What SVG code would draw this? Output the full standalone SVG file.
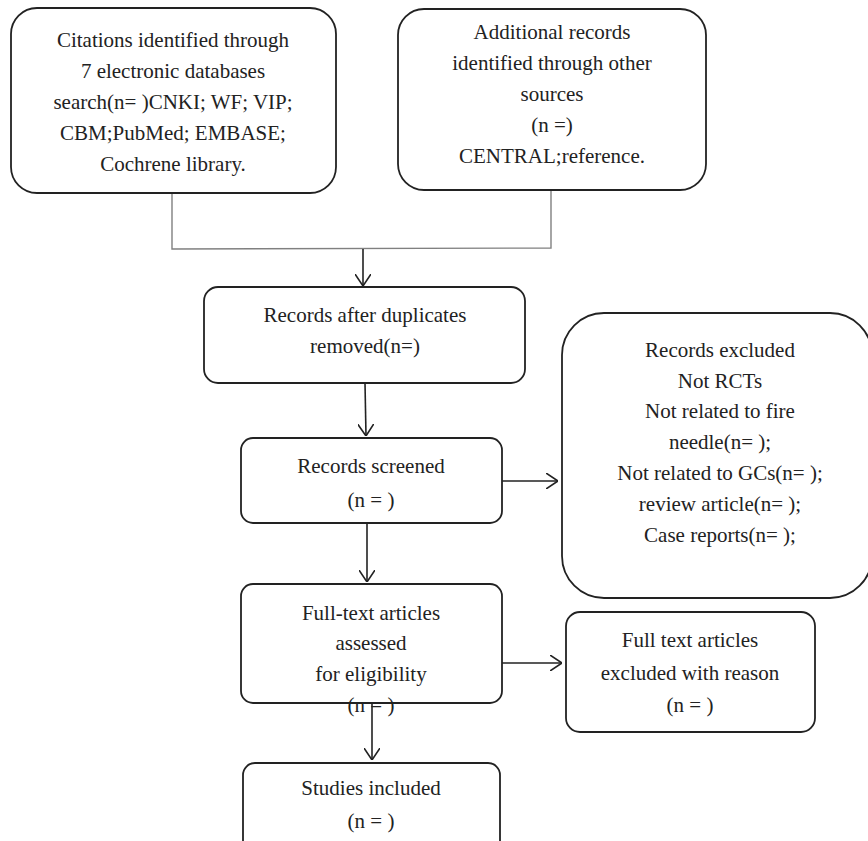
<svg xmlns="http://www.w3.org/2000/svg" width="868" height="841" viewBox="0 0 868 841">
<style>
.box{fill:#fff;stroke:#222;stroke-width:1.8}
.t text{font-size:21px;fill:#222;text-anchor:middle}
.gray{fill:none;stroke:#808080;stroke-width:1.4}
.arr{fill:none;stroke:#222;stroke-width:1.6;marker-end:url(#ah)}
</style>
<defs>
<marker id="ah" viewBox="0 0 12 16" refX="12" refY="8" markerWidth="12" markerHeight="16" markerUnits="userSpaceOnUse" orient="auto">
<path d="M0,0 L12,8 L0,16" fill="none" stroke="#222" stroke-width="1.6"/>
</marker>
</defs>
<g id="connectors">
<polyline class="gray" points="172,193 172,249 551,248 551,190"/>
<line class="arr" x1="363" y1="249" x2="363" y2="286"/>
<line class="arr" x1="365" y1="383" x2="366" y2="436"/>
<line class="arr" x1="502" y1="481" x2="558" y2="481"/>
<line class="arr" x1="367" y1="523" x2="367" y2="582"/>
<line class="arr" x1="502" y1="663" x2="562" y2="663"/>
<line class="arr" x1="372" y1="703" x2="372" y2="760"/>
</g>
<g class="t" font-family="'Liberation Serif', 'DejaVu Serif', serif">
<g id="n1">
<rect class="box" x="11" y="8" width="325" height="185" rx="26"/>
<text x="173" y="47">Citations identified through</text>
<text x="173" y="78">7 electronic databases</text>
<text x="173" y="109">search(n= )CNKI; WF; VIP;</text>
<text x="173" y="140">CBM;PubMed; EMBASE;</text>
<text x="173" y="171">Cochrene library.</text>
</g>
<g id="n2">
<rect class="box" x="398" y="9" width="308" height="181" rx="26"/>
<text x="552" y="39">Additional records</text>
<text x="552" y="70">identified through other</text>
<text x="552" y="101">sources</text>
<text x="552" y="132">(n =)</text>
<text x="552" y="163">CENTRAL;reference.</text>
</g>
<g id="n3">
<rect class="box" x="204" y="287" width="321" height="96" rx="14"/>
<text x="365" y="322">Records after duplicates</text>
<text x="365" y="353">removed(n=)</text>
</g>
<g id="n4">
<rect class="box" x="241" y="438" width="261" height="85" rx="12"/>
<text x="371" y="473">Records screened</text>
<text x="371" y="507">(n = )</text>
</g>
<g id="n5">
<rect class="box" x="562" y="313" width="310" height="285" rx="42"/>
<text x="720" y="357">Records excluded</text>
<text x="720" y="388">Not RCTs</text>
<text x="720" y="418">Not related to fire</text>
<text x="720" y="449">needle(n= );</text>
<text x="720" y="480">Not related to GCs(n= );</text>
<text x="720" y="511">review article(n= );</text>
<text x="720" y="542">Case reports(n= );</text>
</g>
<g id="n6">
<rect class="box" x="241" y="584" width="261" height="119" rx="12"/>
<text x="371" y="620">Full-text articles</text>
<text x="371" y="650">assessed</text>
<text x="371" y="681">for eligibility</text>
<text x="371" y="712">(n = )</text>
</g>
<g id="n7">
<rect class="box" x="566" y="612" width="249" height="120" rx="14"/>
<text x="690" y="647">Full text articles</text>
<text x="690" y="680">excluded with reason</text>
<text x="690" y="712">(n = )</text>
</g>
<g id="n8">
<rect class="box" x="243" y="763" width="257" height="100" rx="12"/>
<text x="371" y="795">Studies included</text>
<text x="371" y="828">(n = )</text>
</g>
</g>
</svg>
